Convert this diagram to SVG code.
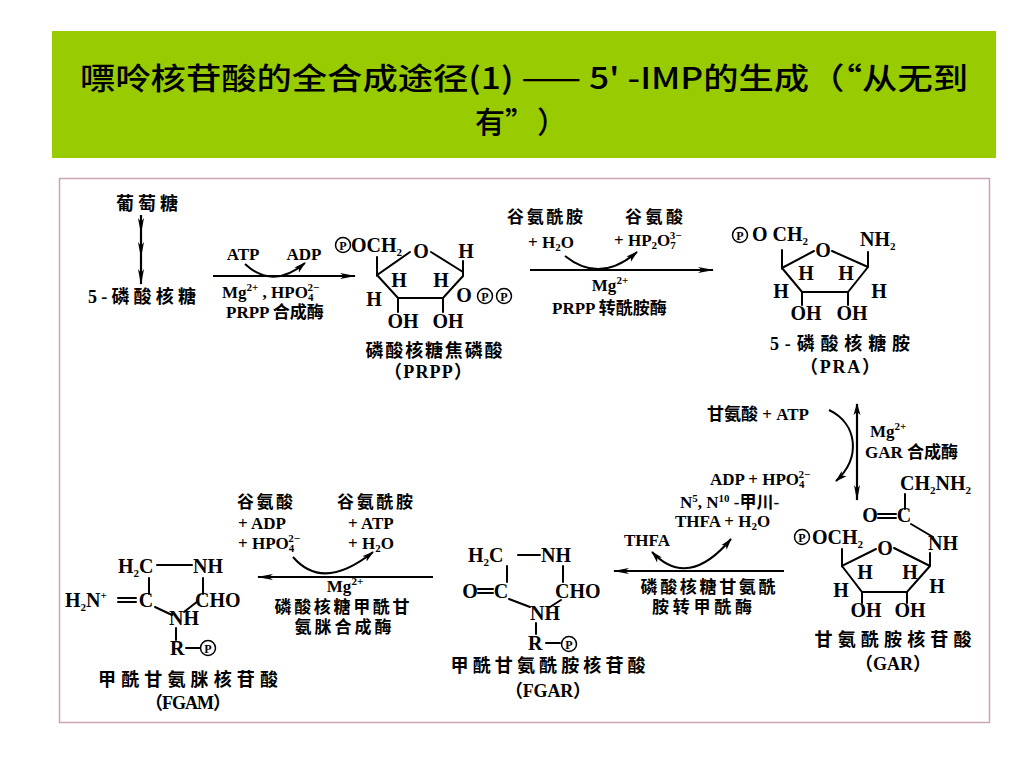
<svg xmlns="http://www.w3.org/2000/svg" xmlns:xlink="http://www.w3.org/1999/xlink" width="1024" height="768" viewBox="0 0 1024 768">
<style>
.title{font-family:"Noto Sans CJK SC","Liberation Sans",sans-serif;font-weight:500;font-size:30px;fill:#000}
.a{font-family:"Liberation Serif","Noto Sans CJK SC",serif;font-weight:bold;font-size:20px;fill:#000}
.r{font-family:"Liberation Serif","Noto Sans CJK SC",serif;font-weight:bold;font-size:17px;fill:#000}
.c{font-family:"Liberation Serif","Noto Sans CJK SC",serif;font-weight:bold;font-size:18px;fill:#000}
.sm{font-size:11px}
.b{stroke:#000;stroke-width:2;fill:none;stroke-linecap:round}
.ar{stroke:#000;stroke-width:2.2;fill:none}
.cv{stroke:#000;stroke-width:2;fill:none}
.mid{text-anchor:middle}
</style>
<defs>
<marker id="ah" markerWidth="16" markerHeight="8" refX="15" refY="4" orient="auto" markerUnits="userSpaceOnUse"><path d="M0,1 L16,4 L0,7 L4,4 Z" fill="#000"/></marker>
<marker id="ahs" markerWidth="12" markerHeight="8" refX="11" refY="4" orient="auto-start-reverse" markerUnits="userSpaceOnUse"><path d="M0,0.5 L12,4 L0,7.5 L3,4 Z" fill="#000"/></marker>
<marker id="ahv" markerWidth="12" markerHeight="8" refX="11" refY="4" orient="auto-start-reverse" markerUnits="userSpaceOnUse"><path d="M0,0.5 L12,4 L0,7.5 L3,4 Z" fill="#000"/></marker>
<g id="P"><circle r="7.5" fill="#fff" stroke="#000" stroke-width="1.5"/><text y="4.5" text-anchor="middle" style="font-family:'Liberation Serif',serif;font-weight:bold;font-size:12px">P</text></g>
</defs>
<rect width="1024" height="768" fill="#fff"/>
<g id="banner">
<rect x="52" y="31" width="944" height="127" fill="#99cc00"/>
<text class="title" x="524" y="89" text-anchor="middle" textLength="888" lengthAdjust="spacingAndGlyphs">嘌呤核苷酸的全合成途径(1) —— 5' -IMP的生成（“从无到</text>
<text class="title" x="475 505 537" y="133">有”）</text>
</g>
<rect id="frame" x="59.5" y="178.5" width="930" height="544" fill="#fff" stroke="#c9a3b6" stroke-width="1.5"/>

<g id="glucose"><text class="c mid" x="147" y="210" textLength="62">葡萄糖</text></g>
<g id="r5p"><text class="c mid" x="142" y="303" textLength="108">5-磷酸核糖</text></g>

<g id="prpp">
<use xlink:href="#P" x="343" y="245"/>
<text class="a" x="351" y="252">OCH<tspan class="sm" dy="4">2</tspan></text>
<path class="b" d="M377,257 L377,275 L410,252 M431,252 L463,272 M463,261 L463,276 L443,298 L398,298 L377,275 M398,298 L398,312 M443,298 L443,312"/>
<text class="a mid" x="421" y="258">O</text>
<text class="a mid" x="466" y="258">H</text>
<text class="a mid" x="399" y="287">H</text>
<text class="a mid" x="441" y="287">H</text>
<text class="a mid" x="374" y="306">H</text>
<text class="a mid" x="464" y="302">O</text>
<use xlink:href="#P" x="485" y="296"/>
<use xlink:href="#P" x="504" y="296"/>
<text class="a mid" x="403" y="328">OH</text>
<text class="a mid" x="448" y="328">OH</text>
<text class="c mid" x="434" y="357" textLength="137">磷酸核糖焦磷酸</text>
<text class="c mid" x="428" y="378" textLength="88">（PRPP）</text>
</g>

<g id="pra">
<use xlink:href="#P" x="740" y="235"/>
<text class="a" x="752" y="241">O CH<tspan class="sm" dy="4">2</tspan></text>
<path class="b" d="M782,250 L782,268 L814,251 M832,251 L868,267 M868,252 L868,267 L848,292 L802,292 L782,268 M802,292 L802,305 M848,292 L848,305"/>
<text class="a mid" x="823" y="257">O</text>
<text class="a" x="860" y="246">NH<tspan class="sm" dy="4">2</tspan></text>
<text class="a mid" x="806" y="280">H</text>
<text class="a mid" x="846" y="280">H</text>
<text class="a mid" x="781" y="298">H</text>
<text class="a mid" x="879" y="298">H</text>
<text class="a mid" x="806" y="320">OH</text>
<text class="a mid" x="852" y="320">OH</text>
<text class="c mid" x="840" y="350" textLength="140">5-磷酸核糖胺</text>
<text class="c mid" x="840" y="373" textLength="80">（PRA）</text>
</g>

<g id="gar">
<text class="a" x="900" y="490">CH<tspan class="sm" dy="4">2</tspan><tspan dy="-4">NH</tspan><tspan class="sm" dy="4">2</tspan></text>
<path class="b" d="M905,494 L905,509 M878,514 L896,514 M878,518 L896,518 M911,524 L933,537"/>
<text class="a mid" x="870" y="522">O</text>
<text class="a mid" x="904" y="522">C</text>
<text class="a" x="928" y="550">NH</text>
<use xlink:href="#P" x="802" y="537"/>
<text class="a" x="812" y="544">OCH<tspan class="sm" dy="4">2</tspan></text>
<path class="b" d="M842,549 L842,566 L876,549 M894,548 L930,566 M930,553 L930,566 L907,592 L862,592 L842,566 M862,592 L862,603 M907,592 L907,603"/>
<text class="a mid" x="885" y="555">O</text>
<text class="a mid" x="865" y="579">H</text>
<text class="a mid" x="910" y="579">H</text>
<text class="a mid" x="841" y="597">H</text>
<text class="a mid" x="937" y="593">H</text>
<text class="a mid" x="866" y="617">OH</text>
<text class="a mid" x="910" y="617">OH</text>
<text class="c mid" x="893" y="646" textLength="157">甘氨酰胺核苷酸</text>
<text class="c mid" x="893" y="670" textLength="76">（GAR）</text>
</g>

<g id="fgar">
<text class="a" x="468" y="562">H<tspan class="sm" dy="4">2</tspan><tspan dy="-4">C</tspan></text>
<path class="b" d="M518,555 L540,555 M507,566 L507,582 M478,589 L493,589 M478,593 L493,593 M563,566 L563,582 M509,599 L530,607 M561,600 L550,607 M536,623 L536,634 M546,643 L560,643"/>
<text class="a" x="541" y="562">NH</text>
<text class="a mid" x="470" y="598">O</text>
<text class="a mid" x="501" y="598">C</text>
<text class="a" x="555" y="598">CHO</text>
<text class="a" x="530" y="620">NH</text>
<text class="a" x="528" y="650">R</text>
<use xlink:href="#P" x="569" y="644"/>
<text class="c mid" x="548" y="672" textLength="195">甲酰甘氨酰胺核苷酸</text>
<text class="c mid" x="548" y="697" textLength="86">（FGAR）</text>
</g>

<g id="fgam">
<text class="a" x="118" y="573">H<tspan class="sm" dy="4">2</tspan><tspan dy="-4">C</tspan></text>
<path class="b" d="M157,565 L192,565 M149,578 L149,594 M118,598 L136,598 M118,602 L136,602 M203,578 L203,594 M155,607 L172,615 M198,601 L184,612 M176,628 L176,640 M186,648 L200,648"/>
<text class="a" x="193" y="573">NH</text>
<text class="a" x="65" y="607">H<tspan class="sm" dy="4">2</tspan><tspan dy="-4">N</tspan><tspan class="sm" dy="-8">+</tspan></text>
<text class="a mid" x="146" y="607">C</text>
<text class="a" x="195" y="607">CHO</text>
<text class="a" x="169" y="625">NH</text>
<text class="a" x="170" y="655">R</text>
<use xlink:href="#P" x="208" y="648"/>
<text class="c mid" x="188" y="686" textLength="180">甲酰甘氨脒核苷酸</text>
<text class="c mid" x="188" y="709" textLength="86">（FGAM）</text>
</g>

<g id="connectors">
<polyline class="ar" points="141,215 141,233 141,257 141,284" marker-mid="url(#ah)" marker-end="url(#ah)"/>

<g id="rxn1">
<line class="ar" x1="213" y1="276" x2="355" y2="276" marker-end="url(#ah)"/>
<path class="cv" d="M245,264 Q273,290 305,263" marker-end="url(#ahs)"/>
<text class="r mid" x="243" y="260">ATP</text>
<text class="r mid" x="304" y="260">ADP</text>
<text class="r" x="222" y="298">Mg<tspan class="sm" dy="-7">2+</tspan><tspan dy="7"> , HPO</tspan><tspan class="sm" dy="3">4</tspan><tspan class="sm" dx="-6" dy="-10">2−</tspan></text>
<text class="r" x="226" y="318">PRPP 合成酶</text>
</g>

<g id="rxn2">
<line class="ar" x1="530" y1="270" x2="713" y2="270" marker-end="url(#ah)"/>
<path class="cv" d="M565,256 Q600,284 637,252" marker-end="url(#ahs)"/>
<text class="r mid" x="545" y="223" textLength="76">谷氨酰胺</text>
<text class="r mid" x="551" y="248">+ H<tspan class="sm" dy="3">2</tspan><tspan dy="-3">O</tspan></text>
<text class="r mid" x="654" y="223" textLength="58">谷氨酸</text>
<text class="r" x="614" y="246">+ HP<tspan class="sm" dy="3">2</tspan><tspan dy="-3">O</tspan><tspan class="sm" dy="3">7</tspan><tspan class="sm" dx="-6" dy="-10">3−</tspan></text>
<text class="r mid" x="610" y="291">Mg<tspan class="sm" dy="-7">2+</tspan></text>
<text class="r" x="552" y="314">PRPP 转酰胺酶</text>
</g>

<g id="rxn3">
<line class="ar" x1="857" y1="404" x2="857" y2="500" marker-start="url(#ahv)" marker-end="url(#ah)"/>
<path class="cv" d="M829,410 C858,424 861,458 836,481" marker-end="url(#ahs)"/>
<text class="r" x="707" y="420">甘氨酸 + ATP</text>
<text class="r" x="870" y="437">Mg<tspan class="sm" dy="-7">2+</tspan></text>
<text class="r" x="865" y="458">GAR 合成酶</text>
<text class="r" x="710" y="485">ADP + HPO<tspan class="sm" dy="3">4</tspan><tspan class="sm" dx="-6" dy="-10">2−</tspan></text>
<text class="r" x="680" y="508">N<tspan class="sm" dy="-6">5</tspan><tspan dy="6">, N</tspan><tspan class="sm" dy="-6">10</tspan><tspan dy="6"> -甲川-</tspan></text>
<text class="r" x="675" y="527">THFA + H<tspan class="sm" dy="3">2</tspan><tspan dy="-3">O</tspan></text>
<text class="r" x="624" y="546">THFA</text>
</g>

<g id="rxn4">
<line class="ar" x1="784" y1="571" x2="614" y2="571" marker-end="url(#ah)"/>
<path class="cv" d="M652,552 Q688,590 731,539" marker-start="url(#ahs)" marker-end="url(#ahs)"/>
<text class="r mid" x="708" y="593" textLength="135">磷酸核糖甘氨酰</text>
<text class="r mid" x="702" y="613" textLength="100">胺转甲酰酶</text>
</g>

<g id="rxn5">
<line class="ar" x1="433" y1="577" x2="258" y2="577" marker-end="url(#ah)"/>
<path class="cv" d="M293,557 Q323,592 373,552" marker-end="url(#ahs)"/>
<text class="r mid" x="265" y="508" textLength="56">谷氨酸</text>
<text class="r" x="238" y="529">+ ADP</text>
<text class="r" x="238" y="549">+ HPO<tspan class="sm" dy="3">4</tspan><tspan class="sm" dx="-6" dy="-10">2−</tspan></text>
<text class="r mid" x="375" y="508" textLength="76">谷氨酰胺</text>
<text class="r" x="348" y="529">+ ATP</text>
<text class="r" x="348" y="549">+ H<tspan class="sm" dy="3">2</tspan><tspan dy="-3">O</tspan></text>
<text class="r mid" x="345" y="592">Mg<tspan class="sm" dy="-7">2+</tspan></text>
<text class="r mid" x="342" y="613" textLength="135">磷酸核糖甲酰甘</text>
<text class="r mid" x="343" y="633" textLength="97">氨脒合成酶</text>
</g>
</g>
</svg>
